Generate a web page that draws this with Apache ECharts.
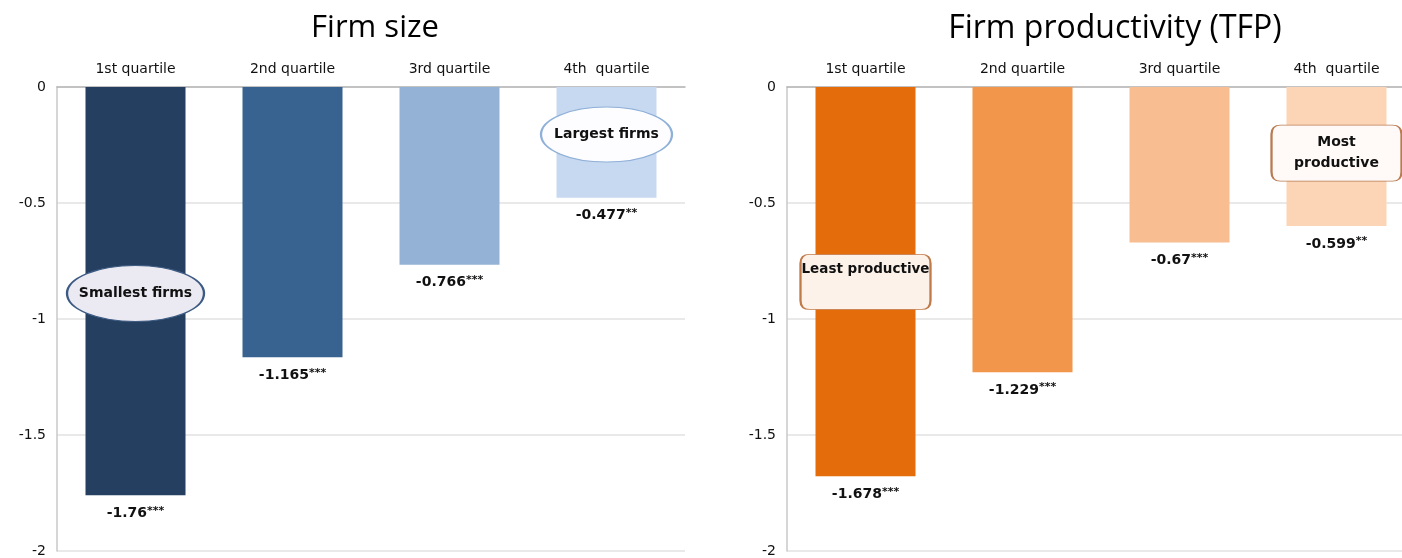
<!DOCTYPE html>
<html>
<head>
<meta charset="utf-8">
<script src="https://cdn.jsdelivr.net/npm/echarts@6/dist/echarts.min.js"></script>
<style>html,body{margin:0;padding:0;background:#fff;overflow:hidden}#c{width:1420px;height:558px}</style>
</head>
<body>
<div id="c"></div>
<script>
// ---- data ----
const categories = ['1st quartile', '2nd quartile', '3rd quartile', '4th  quartile'];
const sizeValues = [-1.76, -1.165, -0.766, -0.477];
const sizeStars = ['***', '***', '***', '**'];
const tfpValues = [-1.678, -1.229, -0.67, -0.599];
const tfpStars = ['***', '***', '***', '**'];
const titles = ['Firm size', 'Firm productivity (TFP)'];
const sizeNotes = [
  { cat: '1st quartile', y: -0.89, text: 'Smallest firms' },
  { cat: '4th  quartile', y: -0.205, text: 'Largest firms' }
];
const tfpNotes = [
  { cat: '1st quartile', y: -0.84, text: 'Least productive' },
  { cat: '4th  quartile', y: -0.285, text: 'Most\nproductive' }
];

// ---- styles ----
const sizeColors = ['#243f5f', '#38628f', '#94b2d6', '#c7d9f0'];
const tfpColors = ['#e46c0a', '#f2964b', '#f8be91', '#fbd5b6'];
const FONT = "'DejaVu Sans', 'Liberation Sans', Arial, sans-serif";
const ELLIPSE = 'path://M0,50 C0,22 22,0 50,0 C78,0 100,22 100,50 C100,78 78,100 50,100 C22,100 0,78 0,50 Z';
const RRECT = 'path://M9,0 H121 Q130,0 130,9 V46 Q130,55 121,55 H9 Q0,55 0,46 V9 Q0,0 9,0 Z';

function barData(vals, colors) {
  return vals.map((v, i) => ({ value: v, itemStyle: { color: colors[i] } }));
}
function labelFmt(stars) {
  return p => '{v|' + p.value + '}{s|' + stars[p.dataIndex] + '}';
}
const labelRich = {
  v: { fontFamily: FONT, fontSize: 14, fontWeight: 'bold', color: '#111' },
  s: { fontFamily: FONT, fontSize: 11, fontWeight: 'bold', color: '#111', verticalAlign: 'top', padding: [0, 0, 5, 0] }
};

function xAxis(gi) {
  return {
    type: 'category', gridIndex: gi, data: categories, position: 'top',
    axisLine: { show: true, lineStyle: { color: '#b5b5b5', width: 1.5 } },
    axisTick: { show: false },
    axisLabel: { fontFamily: FONT, fontSize: 14, color: '#111', margin: 11 }
  };
}
function yAxis(gi) {
  return {
    type: 'value', gridIndex: gi, min: -2, max: 0, interval: 0.5,
    axisLine: { show: true, lineStyle: { color: '#c8c8c8', width: 1.5 } },
    axisTick: { show: false },
    splitLine: { lineStyle: { color: '#e2e2e2', width: 1.5 } },
    axisLabel: { fontFamily: FONT, fontSize: 14, color: '#111', margin: 11 }
  };
}

const option = {
  animation: false,
  backgroundColor: '#fff',
  title: [
    { text: titles[0], left: 370, top: 8, textAlign: 'center',
      textStyle: { fontFamily: "'Open Sans', sans-serif", fontSize: 31, fontWeight: 'normal', color: '#000' } },
    { text: titles[1], left: 1110, top: 8, textAlign: 'center',
      textStyle: { fontFamily: "'Open Sans', sans-serif", fontSize: 32, fontWeight: 'normal', color: '#000' } }
  ],
  grid: [
    { left: 57, top: 87, width: 628, height: 465 },
    { left: 787, top: 87, width: 628, height: 465 }
  ],
  xAxis: [xAxis(0), xAxis(1)],
  yAxis: [yAxis(0), yAxis(1)],
  series: [
    {
      type: 'bar', xAxisIndex: 0, yAxisIndex: 0, barWidth: 100,
      data: barData(sizeValues, sizeColors),
      label: { show: true, position: 'bottom', distance: 10, formatter: labelFmt(sizeStars), rich: labelRich },
      markPoint: {
        silent: true,
        data: [
          { coord: [sizeNotes[0].cat, sizeNotes[0].y], symbol: ELLIPSE, symbolSize: [137, 56],
            itemStyle: { color: '#ebe9f1', borderColor: '#3c5a82', borderWidth: 1.5 },
            label: { formatter: sizeNotes[0].text } },
          { coord: [sizeNotes[1].cat, sizeNotes[1].y], symbol: ELLIPSE, symbolSize: [131, 55],
            itemStyle: { color: '#fdfdff', borderColor: '#8fb0d8', borderWidth: 1.5 },
            label: { formatter: sizeNotes[1].text } }
        ],
        label: { show: true, position: 'inside', fontFamily: FONT, fontSize: 14, fontWeight: 'bold', color: '#111' }
      }
    },
    {
      type: 'bar', xAxisIndex: 1, yAxisIndex: 1, barWidth: 100,
      data: barData(tfpValues, tfpColors),
      label: { show: true, position: 'bottom', distance: 10, formatter: labelFmt(tfpStars), rich: labelRich },
      markPoint: {
        silent: true,
        data: [
          { coord: [tfpNotes[0].cat, tfpNotes[0].y], symbol: RRECT, symbolSize: [130, 55],
            itemStyle: { color: '#fdf2e9', borderColor: '#c07a4a', borderWidth: 1.5 },
            label: { formatter: tfpNotes[0].text, offset: [0, -12], fontSize: 13.5 } },
          { coord: [tfpNotes[1].cat, tfpNotes[1].y], symbol: RRECT, symbolSize: [130, 56],
            itemStyle: { color: '#fffaf7', borderColor: '#b97b52', borderWidth: 1.5 },
            label: { formatter: tfpNotes[1].text, lineHeight: 21 } }
        ],
        label: { show: true, position: 'inside', fontFamily: FONT, fontSize: 14, fontWeight: 'bold', color: '#111' }
      }
    }
  ]
};

const chart = echarts.init(document.getElementById('c'), null, { renderer: 'canvas' });
chart.setOption(option);
</script>
</body>
</html>
